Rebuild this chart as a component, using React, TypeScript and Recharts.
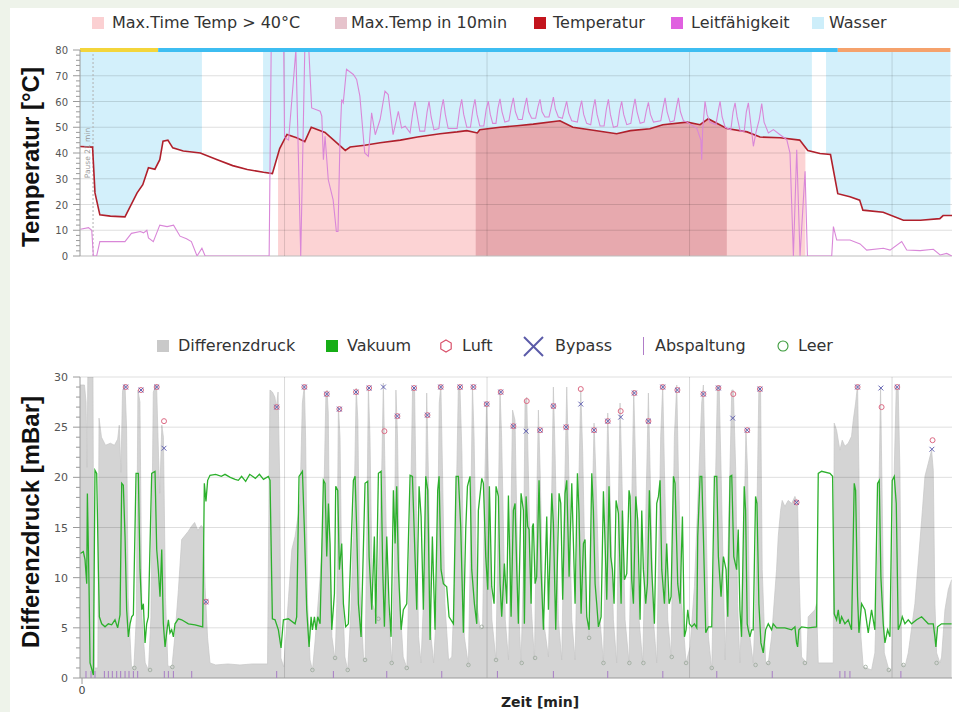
import React from "react";
import { ComposedChart, Area, Line, Scatter, XAxis, YAxis, ReferenceLine } from "recharts";

// Zeit [min], Temperatur [°C]
const temperatur = [
  [-0.25, 42.5], [1.3, 42.3], [1.6, 24.5], [2.2, 16], [3.5, 15.5], [5.3, 15.2], [6.8, 24.5], [7.5, 27.7],
  [8.2, 34.3], [9.0, 33.7], [9.6, 37.4], [10.0, 44.6], [10.6, 45], [11.2, 42], [12.5, 40.8], [14.6, 40],
  [16.7, 37.4], [18.6, 35.1], [20.4, 33.6], [22.4, 32.5], [23.5, 32], [24.4, 41.7], [25.3, 47.2], [26.5, 45.9],
  [27.5, 44.4], [28.3, 50], [30, 48], [32.5, 41], [33.1, 42.3], [34.9, 43], [36.8, 44], [39.3, 45], [41.4, 46.2],
  [44.2, 47.5], [46.3, 48.2], [47.5, 48.7], [48.8, 47.8], [49.1, 49], [51.6, 50], [53.7, 50.6], [55.7, 51.2],
  [59, 52.5], [60.6, 50], [62.7, 49], [66, 47.5], [67.7, 48.7], [70.1, 49.4], [71.7, 51], [74.7, 52], [76.3, 51],
  [77.3, 53.3], [79.6, 49.5], [82.1, 48.2], [83.7, 46.2], [86.2, 45.9], [88.6, 45], [89.6, 41], [91.1, 39.8],
  [92.4, 39.4], [93.3, 24.2], [94.8, 23], [96, 21.7], [96.4, 17.8], [98.9, 17], [101.4, 13.9], [103.5, 13.9],
  [105.9, 14.5], [106.3, 15.7], [107.4, 15.7],
];

// Zeit [min], Leitfähigkeit
const leitfaehigkeit = [
  [-0.2, 10.4], [0.8, 11], [1.2, 10], [1.4, 0], [1.8, 0], [2.2, 5.6], [5.3, 5.6], [6.1, 8.8], [7.2, 9.5],
  [7.6, 9], [8.0, 10], [8.2, 7], [8.8, 5.6], [9.6, 12], [10.5, 11.4], [11.3, 12], [12.1, 7.7], [12.9, 6.7],
  [13.5, 5.6], [14.2, 0], [14.8, 3], [15.2, 0], [23.1, 0], [23.35, 80], [24.9, 80], [25.0, 46], [25.5, 45],
  [26.4, 80], [27.0, 0], [27.5, 80], [28.0, 80], [28.35, 57.5], [29.4, 56.2], [29.6, 54.3], [29.8, 37.4],
  [30.0, 46.5], [30.4, 29.6], [31.0, 21.8], [31.4, 9.5], [31.6, 9.5], [31.85, 45.2], [32.05, 60.8],
  [32.25, 59.5], [32.65, 72.5], [33.5, 70.5], [33.9, 68.6], [34.3, 62.1], [34.9, 40], [35.35, 38.7],
  [35.75, 55.6], [36.2, 47.1], [36.8, 53], [37.4, 64], [37.8, 62.7], [38.4, 47.1], [39.05, 56.2],
  [39.45, 49.7], [39.9, 50.4], [40.5, 47.8], [40.85, 56], [41.1, 60.1], [41.35, 55], [41.7, 48.5],
  [42.3, 48.5], [42.6, 56], [42.84, 60.1], [43.1, 54], [43.45, 49], [44.05, 49.5], [44.35, 57], [44.6, 60.8],
  [44.85, 55], [45.2, 49.5], [46.3, 49.5], [46.62, 57], [46.87, 60.8], [47.12, 55], [47.5, 50], [47.95, 50],
  [48.26, 57], [48.51, 60.8], [48.76, 55], [49.1, 50.5], [49.6, 50.5], [49.9, 57], [50.16, 60.1], [50.4, 55],
  [50.7, 51.5], [51.1, 51.5], [51.35, 57.5], [51.6, 61], [51.85, 56], [52.2, 52], [52.7, 52.5], [53.0, 58],
  [53.25, 61.4], [53.5, 56], [53.85, 53], [54.35, 53], [54.64, 58], [54.89, 61.4], [55.14, 56], [55.5, 53.5],
  [56.0, 53.5], [56.29, 58], [56.54, 60.8], [56.79, 56], [57.15, 54], [57.65, 54], [57.94, 58], [58.19, 61.7],
  [58.44, 57], [58.8, 54], [59.3, 53.5], [59.58, 57], [59.83, 60.1], [60.08, 55.5], [60.45, 52.5],
  [61.15, 52], [61.43, 57], [61.68, 60.3], [61.93, 55], [62.3, 51.5], [62.8, 51], [63.08, 57], [63.33, 60.8],
  [63.58, 55], [63.95, 50.5], [64.45, 50.5], [64.73, 57], [64.98, 60.8], [65.23, 55], [65.6, 50],
  [66.1, 50.5], [66.37, 56.5], [66.62, 60.1], [66.87, 55], [67.25, 51], [67.75, 51.5], [68.02, 57],
  [68.27, 61], [68.52, 56], [68.9, 51.5], [69.4, 52], [69.67, 56.5], [69.92, 59.7], [70.17, 55], [70.55, 52],
  [71.45, 52.5], [71.73, 57.5], [71.98, 61.4], [72.23, 56], [72.6, 52], [73.1, 52.5], [73.37, 57.5],
  [73.62, 61.4], [73.87, 56], [74.25, 52.5], [74.65, 52], [75.9, 49.6], [76.4, 45], [76.5, 37.4], [76.62, 49],
  [76.91, 60.1], [77.16, 55], [77.5, 52], [78.25, 51], [78.52, 56], [78.77, 60.1], [79.02, 54], [79.4, 50],
  [80.1, 49], [80.37, 56], [80.62, 59.5], [80.87, 54], [81.25, 48.5], [81.75, 48.5], [82.01, 56],
  [82.26, 59.5], [82.5, 53], [82.88, 42.6], [83.2, 48], [83.6, 53], [83.91, 59.2], [84.2, 52], [84.73, 47.8],
  [85.35, 49.1], [86.17, 47.1], [87.0, 45.2], [87.4, 40], [87.82, 0], [88.23, 41.3], [88.64, 0],
  [89.26, 32.9], [89.55, 0], [92.55, 0], [92.76, 11.4], [93.17, 6.2], [94.81, 6.2], [96.05, 4.7],
  [96.87, 2.3], [98.93, 3], [99.75, 2.3], [101.19, 5.6], [101.81, 2.3], [103.46, 2.1], [105.1, 2.6],
  [105.93, 0.4], [106.75, 1], [107.37, 0],
];

const wasserZeiten = [[-0.25, 14.8], [22.35, 90.1], [91.85, 107.2]];
const tempUeber40 = [24.2, 89.3];
const maxTemp10min = [48.6, 79.6];
const statusZeiten = [[-0.25, 9.4], [9.4, 93.3], [93.3, 107.2]];

// Zeit [min], Differenzdruck [mBar]
const differenzdruck = [
  [-0.25, 29.2], [0.3, 29.2], [0.5, 27.5], [0.62, 21], [0.72, 30.5], [1.35, 30.5], [1.45, 6], [1.55, 1],
  [1.95, 1], [2.1, 25.9], [2.4, 24], [2.9, 23.2], [3.5, 23.4], [4.0, 23.2], [4.4, 23.8], [4.6, 25.2],
  [4.8, 20.5], [5.0, 28.6], [5.3, 29.3], [5.5, 25], [5.7, 8], [6.1, 1.2], [6.4, 1.0], [6.7, 6], [6.9, 28.7],
  [7.15, 27.5], [7.4, 6], [7.8, 1.5], [8.2, 0.8], [8.5, 6], [8.8, 28.5], [9.2, 29.3], [9.45, 22], [9.6, 18.4],
  [9.85, 25.2], [10.05, 24], [10.3, 8], [10.6, 1.2], [11.1, 1.1], [11.5, 4.5], [11.9, 8.8], [12.3, 13.8],
  [12.7, 14.2], [13.1, 14.6], [13.5, 15.1], [13.9, 15.5], [14.3, 14.7], [14.7, 15.2], [14.95, 15.0],
  [15.2, 9], [15.5, 4], [15.8, 1.5], [16.5, 1.3], [18, 1.4], [19.5, 1.3], [21, 1.4], [22.9, 1.4],
  [23.2, 28.7], [23.5, 28.5], [23.8, 28], [24.0, 27], [24.2, 28.5], [24.4, 20], [24.55, 2], [24.9, 1.1],
  [25.5, 8.1], [25.9, 12.8], [26.3, 14.1], [26.9, 17.4], [27.2, 27.4], [27.45, 29.2], [27.6, 24],
  [27.85, 7.4], [28.15, 1.8], [28.45, 0.8], [28.75, 3.5], [29.4, 10.1], [29.8, 15.7], [30.1, 28],
  [30.25, 28.7], [30.4, 26.4], [30.55, 14], [30.85, 4.1], [31.25, 1.8], [31.45, 7.4], [31.65, 27],
  [31.85, 24], [32.05, 10.8], [32.45, 2.1], [32.8, 0.8], [33.2, 6.8], [33.6, 17.4], [33.85, 28.9],
  [34.05, 25.7], [34.3, 9.1], [34.75, 2.1], [34.95, 1.8], [35.15, 14.1], [35.35, 29], [35.55, 24],
  [35.85, 7.4], [36.4, 6.1], [36.6, 10.8], [37.0, 20.7], [37.2, 29.4], [37.4, 20.7], [37.75, 7.4],
  [38.25, 1.5], [38.55, 10.8], [38.75, 28.7], [38.95, 24], [39.25, 7.4], [39.65, 2.1], [40.1, 1.0],
  [40.5, 14.1], [40.8, 28.7], [41.05, 29], [41.2, 20.7], [41.55, 4.1], [41.85, 1.5], [42.3, 10.8],
  [42.55, 28.4], [42.75, 20.7], [43.1, 4.1], [43.4, 1.5], [43.8, 7.4], [44.1, 27.4], [44.3, 29.2],
  [44.5, 20.7], [44.8, 7.4], [45.25, 1.8], [45.65, 2.1], [46.05, 10.8], [46.45, 28.7], [46.65, 29.2],
  [46.9, 22.4], [47.2, 4.1], [47.7, 1.3], [47.9, 10.8], [48.2, 29.2], [48.4, 24], [48.75, 7.4], [49.15, 4.8],
  [49.45, 5.1], [49.75, 20.7], [49.95, 27.5], [50.15, 20.7], [50.6, 5.8], [51.1, 1.8], [51.4, 17.4],
  [51.6, 28.7], [51.8, 24], [52.25, 5.8], [52.65, 1.8], [52.85, 10.8], [53.15, 26.7], [53.45, 25.7],
  [53.87, 7.4], [54.2, 1.5], [54.49, 10.8], [54.69, 27.4], [54.9, 28], [55.1, 20.7], [55.44, 7.4],
  [55.85, 1.8], [56.13, 17.4], [56.34, 26.7], [56.55, 20.7], [56.96, 5.8], [57.58, 2.1], [57.9, 14.1],
  [58.19, 29], [58.4, 22.4], [58.81, 5.8], [59.22, 1.8], [59.55, 17.4], [59.84, 29], [60.04, 22.4],
  [60.46, 5.8], [60.87, 1.8], [61.28, 17.4], [61.57, 28.7], [61.81, 22.4], [62.18, 7.4], [62.6, 4.1],
  [63.01, 17.4], [63.21, 25.4], [63.42, 20.7], [63.95, 5.8], [64.37, 1.5], [64.69, 17.4], [64.9, 26.4],
  [65.11, 20.7], [65.6, 5.8], [66.01, 1.5], [66.22, 17.4], [66.42, 27.4], [66.63, 20.7], [67.04, 5.8],
  [67.53, 1.5], [67.86, 17.4], [68.11, 28.7], [68.36, 20.7], [68.77, 5.8], [69.22, 1.5], [69.63, 17.4],
  [69.92, 28.4], [70.13, 20.7], [70.54, 5.8], [70.95, 1.5], [71.44, 24.1], [71.69, 29.2], [71.9, 20.7],
  [72.31, 5.8], [72.72, 2.1], [73.13, 24.1], [73.42, 29.2], [73.62, 20.7], [74.04, 7.4], [74.57, 1.5],
  [75.06, 3.1], [75.6, 9.1], [76.09, 19.1], [76.5, 27.4], [76.71, 29.2], [76.92, 20.7], [77.33, 4.1],
  [77.74, 0.8], [78.15, 17.4], [78.44, 29], [78.65, 29.2], [78.89, 20.7], [79.39, 1.8], [79.8, 14.1],
  [80.21, 28.7], [80.41, 28.7], [80.7, 20.7], [80.93, 7.4], [81.22, 1.5], [81.63, 10.8], [81.96, 24.7],
  [82.16, 20.7], [82.45, 4.1], [82.86, 1.5], [83.15, 7.4], [83.4, 20.7], [83.56, 29], [83.77, 28.7],
  [83.97, 10.8], [84.39, 1.5], [84.72, 1.5], [85.13, 4.1], [85.74, 10.8], [85.95, 14.1], [86.24, 16.7],
  [86.44, 17.7], [86.77, 17.1], [87.18, 17.7], [87.6, 17.4], [88.01, 18.1], [88.34, 17.4], [88.5, 10.8],
  [88.83, 2.1], [89.45, 1.5], [89.65, 6.1], [90.48, 6.8], [90.68, 7.4], [90.89, 1.5], [92.74, 1.5],
  [92.86, 25.4], [93.15, 24.7], [93.56, 22.7], [93.85, 23.7], [94.18, 23.1], [94.59, 23.4], [95.0, 24.1],
  [95.21, 25.7], [95.5, 27.4], [95.74, 29.2], [95.91, 20.7], [96.16, 4.1], [96.44, 1.1], [97.47, 0.8],
  [97.88, 2.5], [98.3, 14.1], [98.58, 29], [98.79, 17.4], [99.04, 2.5], [99.61, 0.8], [99.94, 0.8],
  [100.27, 20.7], [100.52, 29], [100.76, 28.7], [100.97, 20.7], [101.18, 1.5], [101.59, 1.1], [102, 2.5],
  [102.82, 7.4], [103.65, 15.7], [104.06, 20.1], [104.47, 21.4], [104.88, 22.7], [105.09, 20.7],
  [105.29, 7.4], [105.5, 2.5], [105.91, 1.5], [106.11, 2.1], [106.53, 6.8], [106.94, 8.8], [107.35, 9.8],
];

// Zeit [min], Vakuum [mBar]
const vakuum = [
  [-0.2, 12.4], [0.16, 12.6], [0.37, 11.8], [0.58, 9.4], [0.66, 18.4], [0.86, 9.4], [0.99, 1.5], [1.4, 0.3],
  [1.6, 20.7], [1.81, 20.4], [2.02, 10.8], [2.14, 6.1], [2.43, 5.4], [2.84, 5.1], [3.25, 5.4], [3.66, 5.3],
  [4.07, 5.8], [4.4, 5], [4.69, 6.3], [4.9, 19.4], [5.1, 19.2], [5.31, 14.1], [5.51, 6.8], [5.72, 4.1],
  [5.93, 5.4], [6.13, 6.1], [6.34, 6.3], [6.67, 20.4], [6.95, 20.4], [7.16, 10.8], [7.37, 6.8], [7.57, 7.4],
  [7.78, 3.5], [7.98, 5.4], [8.19, 6.1], [8.6, 20.4], [9.01, 20.6], [9.22, 12.8], [9.42, 10.8], [9.63, 8.1],
  [9.84, 12.8], [10.04, 5.4], [10.25, 3.1], [10.45, 4.5], [10.66, 5.8], [10.86, 4.5], [11.07, 4.8],
  [11.28, 4.1], [11.48, 5.4], [11.89, 5.9], [12.3, 5.8], [13.13, 5.4], [13.95, 5.3], [14.9, 5.1],
  [15.1, 19.4], [15.3, 17.6], [15.51, 19.7], [15.8, 20.2], [16.5, 20.3], [17.2, 20.1], [17.65, 20.3],
  [18.3, 20], [18.9, 19.8], [19.3, 19.7], [19.7, 20.1], [20.2, 19.6], [20.7, 20.3], [21.4, 19.9],
  [21.9, 20.3], [22.4, 19.8], [23.0, 20.1], [23.21, 19.7], [23.5, 5.9], [23.83, 5.8], [24.24, 4.8],
  [24.57, 3.0], [24.86, 5.8], [25.47, 5.9], [26.3, 5.4], [26.5, 6.1], [26.79, 20.1], [27.21, 20.6],
  [27.45, 14.8], [27.74, 6.8], [28.03, 3.1], [28.28, 6.1], [28.44, 4.8], [28.69, 6.1], [28.89, 4.8],
  [29.1, 6.1], [29.39, 5.4], [29.8, 19.7], [30.0, 19.4], [30.21, 12.1], [30.42, 17.4], [30.62, 13.4],
  [30.83, 4.8], [31.16, 8.4], [31.32, 19.1], [31.57, 18.7], [31.77, 10.8], [32.06, 13.4], [32.27, 7.4],
  [32.55, 5.1], [32.88, 5.4], [33.5, 19.7], [33.71, 20.1], [33.91, 14.8], [34.12, 7.4], [34.45, 4.1],
  [34.94, 19.4], [35.27, 19.6], [35.44, 12.1], [35.77, 6.8], [36.09, 14.1], [36.26, 5.4], [36.59, 20.4],
  [36.92, 20.6], [37.12, 10.8], [37.33, 5.1], [37.62, 14.1], [37.9, 7.4], [38.15, 4.1], [38.44, 18.7],
  [38.65, 13.4], [38.85, 19.1], [39.06, 10.8], [39.39, 4.8], [39.67, 6.8], [40.09, 7.4], [40.5, 20.2],
  [40.79, 20.1], [41.03, 14.1], [41.32, 6.8], [41.61, 19.1], [41.86, 16.1], [42.14, 6.8], [42.43, 20.1],
  [42.68, 18.7], [42.97, 3.8], [43.25, 14.1], [43.58, 4.8], [43.91, 18.7], [44.08, 20.1], [44.32, 10.8],
  [44.61, 9.4], [45.02, 9.1], [45.31, 6.1], [45.85, 5.4], [46.18, 20.1], [46.46, 20.1], [46.75, 15.1],
  [47.08, 4.5], [47.37, 14.8], [47.58, 19.1], [47.9, 20.1], [48.11, 10.8], [48.44, 7.4], [48.73, 5.4],
  [48.93, 16.7], [49.35, 19.9], [49.55, 19.4], [49.84, 12.1], [50.09, 8.8], [50.29, 19.1], [50.58, 9.1],
  [50.87, 7.4], [51.11, 19.1], [51.4, 18.1], [51.61, 9.4], [51.81, 6.1], [52.14, 11.4], [52.43, 7.4],
  [52.64, 18.2], [52.97, 6.1], [53.25, 16.7], [53.46, 17.4], [53.67, 10.8], [53.87, 5.4], [54.2, 18.4],
  [54.49, 16.7], [54.61, 5.4], [54.82, 18.1], [55.02, 15.1], [55.19, 14.8], [55.44, 7.4], [55.6, 15.1],
  [55.72, 15.4], [55.93, 9.4], [56.13, 10.1], [56.42, 19.7], [56.67, 10.8], [56.96, 4.8], [57.37, 16.1],
  [57.58, 6.8], [57.99, 18.4], [58.19, 15.4], [58.48, 4.8], [58.89, 18.4], [59.1, 17.4], [59.34, 7.8],
  [59.63, 18.4], [59.84, 19.7], [60.13, 10.1], [60.46, 19.4], [60.87, 7.4], [61.16, 20.4], [61.36, 16.4],
  [61.61, 6.4], [61.9, 13.4], [62.1, 13.8], [62.31, 6.1], [62.6, 4.8], [62.93, 20.4], [63.13, 16.7],
  [63.34, 9.4], [63.54, 7.4], [63.75, 5.1], [64.08, 6.1], [64.37, 18.6], [64.57, 13.4], [64.78, 7.8],
  [65.06, 19.1], [65.27, 12.1], [65.48, 10.8], [65.68, 7.4], [65.93, 17.7], [66.22, 16.4], [66.55, 7.4],
  [66.71, 16.7], [66.96, 9.8], [67.25, 10.4], [67.53, 18.7], [67.66, 18.1], [67.86, 9.8], [68.07, 7.4],
  [68.36, 18.1], [68.6, 15.7], [68.89, 5.8], [69.1, 16.7], [69.3, 10.8], [69.59, 7.4], [69.8, 9.4],
  [70.04, 18.7], [70.33, 10.8], [70.66, 5.4], [70.95, 17.4], [71.16, 18.1], [71.36, 19.7], [71.57, 10.8],
  [71.9, 7.4], [72.18, 13.4], [72.47, 7.4], [72.72, 8.1], [73.01, 20.1], [73.21, 19.4], [73.54, 9.4],
  [73.83, 7.4], [74.12, 16.1], [74.37, 4.1], [74.57, 4.8], [74.78, 6.8], [74.98, 5.4], [75.27, 5.1],
  [75.6, 5.4], [75.89, 5], [76.01, 14.1], [76.3, 20.1], [76.51, 20.1], [76.71, 14.1], [77, 4.5],
  [77.33, 5.1], [77.74, 5.1], [78.07, 20.1], [78.36, 20.1], [78.56, 12.1], [78.89, 8.1], [79.18, 12.1],
  [79.51, 10.8], [79.72, 6.1], [80, 20.1], [80.21, 20.2], [80.46, 12.1], [80.81, 10.8], [81.01, 14.8],
  [81.22, 6.8], [81.42, 4.1], [81.75, 19.1], [81.92, 16.7], [82.12, 5.4], [82.25, 4.8], [82.45, 4.1],
  [82.66, 4.8], [82.86, 4.8], [83.15, 18.1], [83.32, 17.4], [83.56, 7.4], [83.81, 3.5], [84.1, 2.5],
  [84.39, 4.8], [84.72, 5.4], [85.13, 4.8], [85.33, 5.4], [85.74, 5], [86.77, 5], [87.6, 4.8], [88.01, 5.1],
  [88.21, 3.5], [88.34, 3.1], [88.5, 4.8], [88.83, 5.1], [89.65, 5], [90.68, 5.1], [90.89, 20.4],
  [91.3, 20.6], [92.33, 20.4], [92.66, 20.1], [92.86, 6.4], [93.15, 5.8], [93.36, 6.8], [93.56, 5.4],
  [93.77, 6.1], [94.18, 5.4], [94.59, 5.8], [95.0, 4.8], [95.33, 19.4], [95.5, 18.7], [95.74, 8.1],
  [95.91, 4.5], [96.24, 7.4], [96.65, 6.8], [97.06, 4.5], [97.47, 6.8], [97.88, 4.8], [98.21, 19.4],
  [98.42, 19.7], [98.62, 10.1], [98.91, 5.4], [99.12, 3.5], [99.45, 4.8], [99.74, 4.1], [100.02, 19.7],
  [100.27, 20.1], [100.52, 17.4], [100.76, 4.8], [101.05, 5.4], [101.26, 6.1], [101.59, 5.4], [102, 5.8],
  [102.41, 5.4], [103.03, 5.8], [103.65, 6.1], [104.47, 5.4], [105.09, 5.4], [105.29, 4.1], [105.41, 3.1],
  [105.62, 5.1], [106.11, 5.4], [106.94, 5.4], [107.35, 5.4],
];

const luft = [
  [5.39, 29], [7.28, 28.7], [9.22, 29], [10.12, 25.6], [15.3, 7.6], [24.03, 27], [27.45, 29], [30.21, 28.3],
  [31.77, 26.8], [33.83, 28.5], [35.44, 28.9], [37.33, 24.6], [38.93, 26.1], [40.99, 28.9], [42.64, 26.2],
  [44.28, 29], [46.67, 29], [48.32, 29], [49.96, 27.3], [51.69, 28.5], [53.25, 25.1], [54.9, 27.6],
  [56.55, 24.7], [58.19, 27.1], [59.76, 25], [61.57, 28.8], [63.21, 24.7], [64.9, 25.6], [66.5, 26.6],
  [68.19, 28.4], [69.92, 25.6], [71.69, 29], [73.5, 28.7], [76.71, 28.3], [78.56, 28.9], [80.4, 28.3],
  [82.12, 24.7], [83.69, 28.8], [88.21, 17.5], [95.74, 29], [98.71, 27], [100.64, 29], [105, 23.7],
];

const bypass = [
  [5.39, 29], [7.28, 28.7], [9.22, 29], [10.12, 22.9], [15.3, 7.6], [24.03, 27], [27.45, 29], [30.21, 28.3],
  [31.77, 26.8], [33.83, 28.5], [35.44, 28.9], [37.21, 29], [38.93, 26.1], [40.99, 28.9], [42.64, 26.2],
  [44.28, 29], [46.67, 29], [48.32, 29], [49.96, 27.3], [51.69, 28.5], [53.25, 25.1], [54.82, 24.6],
  [56.55, 24.7], [58.19, 27.1], [59.76, 25], [61.57, 27.3], [63.21, 24.7], [64.9, 25.6], [66.5, 26],
  [68.19, 28.4], [69.92, 25.6], [71.69, 29], [73.5, 28.7], [76.71, 28.3], [78.56, 28.9], [80.33, 25.9],
  [82.12, 24.7], [83.69, 28.8], [88.21, 17.5], [95.74, 29], [98.62, 28.9], [100.64, 29], [104.92, 22.8],
];

const leer = [
  [6.46, 1], [8.4, 0.8], [11.15, 1.1], [28.44, 0.8], [31.24, 2], [32.8, 0.8], [34.94, 1.8], [36.59, 5.9],
  [38.23, 1.5], [40.09, 1], [47.7, 1.3], [49.35, 5.1], [51.11, 1.8], [54.28, 1.5], [55.93, 2], [62.6, 4],
  [64.37, 1.5], [67.57, 1.5], [69.3, 1.5], [72.8, 2.1], [74.57, 1.5], [77.74, 1], [83.15, 1.3], [84.72, 1.5],
  [89.24, 1.5], [96.73, 1.1], [99.6, 0.8], [101.4, 1.3], [105.5, 1.5],
];

const abspaltung = [
  0.49, 1.11, 1.6, 2.76, 3.25, 3.74, 4.28, 4.77, 5.31, 5.8, 6.34, 6.87, 10.16, 10.66, 11.28, 13.54, 24.03,
  31.03, 37.62, 44.41, 51.28, 58.19, 64.9, 71.7, 78.36, 85.21, 93.56, 94.18, 94.8, 101.09,
];

const X_DOMAIN = [-0.25, 107.4];
const zeitRaster = [25, 50, 75, 100];
const tempGrid = [10, 20, 30, 40, 50, 60, 70];
const druckGrid = [5, 10, 15, 20, 25, 30];
const tempTicks = Array.from({ length: 41 }, (_, i) => i * 2);
const druckTicks = Array.from({ length: 31 }, (_, i) => i);

const FONT = '"DejaVu Sans", sans-serif';
const W = 959;

const pts = (arr: number[][]) => arr.map(([t, v]) => ({ t, v }));

// cut a series to [a, b], adding interpolated end points
const clip = (arr: number[][], a: number, b: number) => {
  const out: { t: number; v: number }[] = [];
  for (let i = 0; i < arr.length; i++) {
    const [t, v] = arr[i];
    if (i > 0) {
      const [t0, v0] = arr[i - 1];
      for (const e of [a, b]) {
        if (t0 < e && t > e) out.push({ t: e, v: v0 + ((v - v0) * (e - t0)) / (t - t0) });
      }
    }
    if (t >= a && t <= b) out.push({ t, v });
  }
  return out;
};

const YTick = (props: any) => {
  const { x, y, payload, major, fs } = props;
  const isMajor = payload.value % major === 0;
  return (
    <g>
      <line x1={x - (isMajor ? 7 : 4)} x2={x} y1={y} y2={y} stroke="#9a9a9a" />
      {isMajor && (
        <text x={x - 12} y={y} dy={4} textAnchor="end" fontSize={fs} fill="#555" fontFamily={FONT}>
          {payload.value}
        </text>
      )}
    </g>
  );
};

const LuftDot = (p: any) => <circle cx={p.cx} cy={p.cy} r={2.5} fill="none" stroke="#dc6a84" strokeWidth={1} />;
const BypassDot = (p: any) => (
  <g stroke="#6262b2" strokeWidth={1}>
    <line x1={p.cx - 2.4} y1={p.cy - 2.4} x2={p.cx + 2.4} y2={p.cy + 2.4} />
    <line x1={p.cx - 2.4} y1={p.cy + 2.4} x2={p.cx + 2.4} y2={p.cy - 2.4} />
  </g>
);
const LeerDot = (p: any) => <circle cx={p.cx} cy={p.cy} r={1.8} fill="none" stroke="#9aa89a" strokeWidth={0.8} />;
const AbspaltungMark = (p: any) => <line x1={p.cx} x2={p.cx} y1={p.cy - 7} y2={p.cy} stroke="#a77cc4" strokeWidth={1} />;

const txt = (x: number, y: number, s: string) => (
  <span style={{ position: "absolute", left: x, top: y, fontSize: 16, lineHeight: "20px", color: "#333", whiteSpace: "nowrap" }}>
    {s}
  </span>
);
const box = (x: number, y: number, c: string) => (
  <div style={{ position: "absolute", left: x, top: y, width: 12, height: 12, background: c }} />
);

const statusFarben = ["#f3d53b", "#3dbdf1", "#f5a26c"];

function TopChart() {
  return (
    <ComposedChart width={W} height={226} margin={{ top: 10, right: 7, bottom: 10, left: 50 }}>
      <XAxis type="number" dataKey="t" domain={X_DOMAIN} allowDataOverflow hide />
      <YAxis
        type="number"
        domain={[0, 80]}
        allowDataOverflow
        ticks={tempTicks}
        interval={0}
        width={30}
        tickSize={0}
        tickMargin={0}
        tickLine={false}
        axisLine={{ stroke: "#9a9a9a" }}
        tick={(p: any) => <YTick {...p} major={10} fs={10} />}
      />
      {wasserZeiten.map(([a, b], i) => (
        <Area
          key={"w" + i}
          data={clip(temperatur, a, b)}
          dataKey={(d: any) => [d.v, 80]}
          type="linear"
          stroke="none"
          fill="#d3f0fb"
          fillOpacity={1}
          isAnimationActive={false}
        />
      ))}
      <Area data={clip(temperatur, tempUeber40[0], tempUeber40[1])} dataKey="v" type="linear" stroke="none" fill="#fcd3d4" fillOpacity={1} isAnimationActive={false} />
      <Area data={clip(temperatur, maxTemp10min[0], maxTemp10min[1])} dataKey="v" type="linear" stroke="none" fill="#e7a9ae" fillOpacity={1} isAnimationActive={false} />
      {tempGrid.map((v) => (
        <ReferenceLine key={"g" + v} y={v} stroke="#000" strokeOpacity={0.13} />
      ))}
      <ReferenceLine y={0} stroke="#bdbdbd" />
      {zeitRaster.map((t) => (
        <ReferenceLine key={"x" + t} x={t} stroke="#000" strokeOpacity={0.13} />
      ))}
      <ReferenceLine x={1.36} stroke="#b0b0b0" strokeDasharray="2 2" />
      <Line data={pts(temperatur)} dataKey="v" type="linear" stroke="#b0202c" strokeWidth={1.6} dot={false} isAnimationActive={false} />
      <Line data={pts(leitfaehigkeit)} dataKey="v" type="linear" stroke="#d987d8" strokeWidth={1.1} dot={false} isAnimationActive={false} />
      {statusZeiten.map(([a, b], i) => (
        <ReferenceLine
          key={"s" + i}
          segment={[{ x: a, y: 80 }, { x: b, y: 80 }]}
          stroke={statusFarben[i]}
          strokeWidth={4}
          ifOverflow="visible"
        />
      ))}
    </ComposedChart>
  );
}

function BottomChart() {
  return (
    <ComposedChart width={W} height={335} margin={{ top: 10, right: 7, bottom: 0, left: 50 }}>
      <XAxis
        type="number"
        dataKey="t"
        domain={X_DOMAIN}
        allowDataOverflow
        ticks={[0]}
        height={24}
        tick={{ fontSize: 11, fill: "#444", fontFamily: FONT }}
        axisLine={{ stroke: "#9a9a9a" }}
        tickLine={{ stroke: "#9a9a9a" }}
      />
      <YAxis
        type="number"
        domain={[0, 30]}
        allowDataOverflow
        ticks={druckTicks}
        interval={0}
        width={30}
        tickSize={0}
        tickMargin={0}
        tickLine={false}
        axisLine={{ stroke: "#9a9a9a" }}
        tick={(p: any) => <YTick {...p} major={5} fs={11} />}
      />
      <Area data={pts(differenzdruck)} dataKey="v" type="linear" stroke="#c6c6c6" strokeWidth={0.7} fill="#d4d4d4" fillOpacity={1} isAnimationActive={false} />
      {druckGrid.map((v) => (
        <ReferenceLine key={"g" + v} y={v} stroke="#000" strokeOpacity={0.13} />
      ))}
      {zeitRaster.map((t) => (
        <ReferenceLine key={"x" + t} x={t} stroke="#000" strokeOpacity={0.15} />
      ))}
      <Line data={pts(vakuum)} dataKey="v" type="linear" stroke="#2cb02c" strokeWidth={1.3} dot={false} isAnimationActive={false} />
      <Scatter data={abspaltung.map((t) => ({ t, v: 0 }))} dataKey="v" shape={AbspaltungMark} isAnimationActive={false} />
      <Scatter data={pts(leer)} dataKey="v" shape={LeerDot} isAnimationActive={false} />
      <Scatter data={pts(luft)} dataKey="v" shape={LuftDot} isAnimationActive={false} />
      <Scatter data={pts(bypass)} dataKey="v" shape={BypassDot} isAnimationActive={false} />
    </ComposedChart>
  );
}

export default function App() {
  return (
    <div style={{ position: "fixed", inset: 0, background: "#eef3ea", fontFamily: FONT }}>
      <div style={{ position: "absolute", left: 10, top: 8, right: 0, bottom: 0, background: "#fff" }} />

      {/* top legend */}
      {box(92, 17, "#fbd0d2")}
      {txt(112, 13, "Max.Time Temp > 40°C")}
      {box(335, 17, "#e6c3cc")}
      {txt(351, 13, "Max.Temp in 10min")}
      {box(534, 17, "#c3141d")}
      {txt(553, 13, "Temperatur")}
      {box(671, 17, "#e060e0")}
      {txt(691, 13, "Leitfähigkeit")}
      {box(812, 17, "#cdeefa")}
      {txt(829, 13, "Wasser")}

      <div style={{ position: "absolute", left: 0, top: 40 }}>
        <TopChart />
      </div>
      <div style={{ position: "absolute", left: 31, top: 157, transform: "translate(-50%, -50%) rotate(-90deg)", fontFamily: '"Liberation Sans", Arial, sans-serif', fontWeight: 700, fontSize: 24, color: "#111", whiteSpace: "nowrap" }}>
        Temperatur [°C]
      </div>
      <div style={{ position: "absolute", left: 87, top: 153, transform: "translate(-50%, -50%) rotate(-90deg)", fontSize: 7.5, color: "#999", whiteSpace: "nowrap" }}>
        Pause 21 min
      </div>

      {/* bottom legend */}
      {box(157, 340, "#c9c9c9")}
      {txt(178, 336, "Differenzdruck")}
      {box(326, 340, "#16ad16")}
      {txt(347, 336, "Vakuum")}
      <svg style={{ position: "absolute", left: 438, top: 338 }} width={16} height={16}>
        <polygon points="8,2 13.2,5 13.2,11 8,14 2.8,11 2.8,5" fill="none" stroke="#d9506a" strokeWidth={1.2} />
      </svg>
      {txt(462, 336, "Luft")}
      <svg style={{ position: "absolute", left: 522, top: 335 }} width={23} height={23}>
        <line x1={2} y1={2} x2={21} y2={21} stroke="#5a5aa8" strokeWidth={2} />
        <line x1={2} y1={21} x2={21} y2={2} stroke="#5a5aa8" strokeWidth={2} />
      </svg>
      {txt(555, 336, "Bypass")}
      <div style={{ position: "absolute", left: 643, top: 337, width: 1, height: 18, background: "#b07cc8" }} />
      {txt(655, 336, "Abspaltung")}
      <svg style={{ position: "absolute", left: 776, top: 339 }} width={14} height={14}>
        <circle cx={7} cy={7} r={5} fill="none" stroke="#3a9a3a" strokeWidth={1.1} />
      </svg>
      {txt(798, 336, "Leer")}

      <div style={{ position: "absolute", left: 0, top: 367 }}>
        <BottomChart />
      </div>
      <div style={{ position: "absolute", left: 31, top: 522, transform: "translate(-50%, -50%) rotate(-90deg)", fontFamily: '"Liberation Sans", Arial, sans-serif', fontWeight: 700, fontSize: 24, color: "#111", whiteSpace: "nowrap" }}>
        Differenzdruck [mBar]
      </div>
      <div style={{ position: "absolute", left: 440, top: 694, width: 200, textAlign: "center", fontWeight: 700, fontSize: 14, color: "#222" }}>
        Zeit [min]
      </div>
    </div>
  );
}
